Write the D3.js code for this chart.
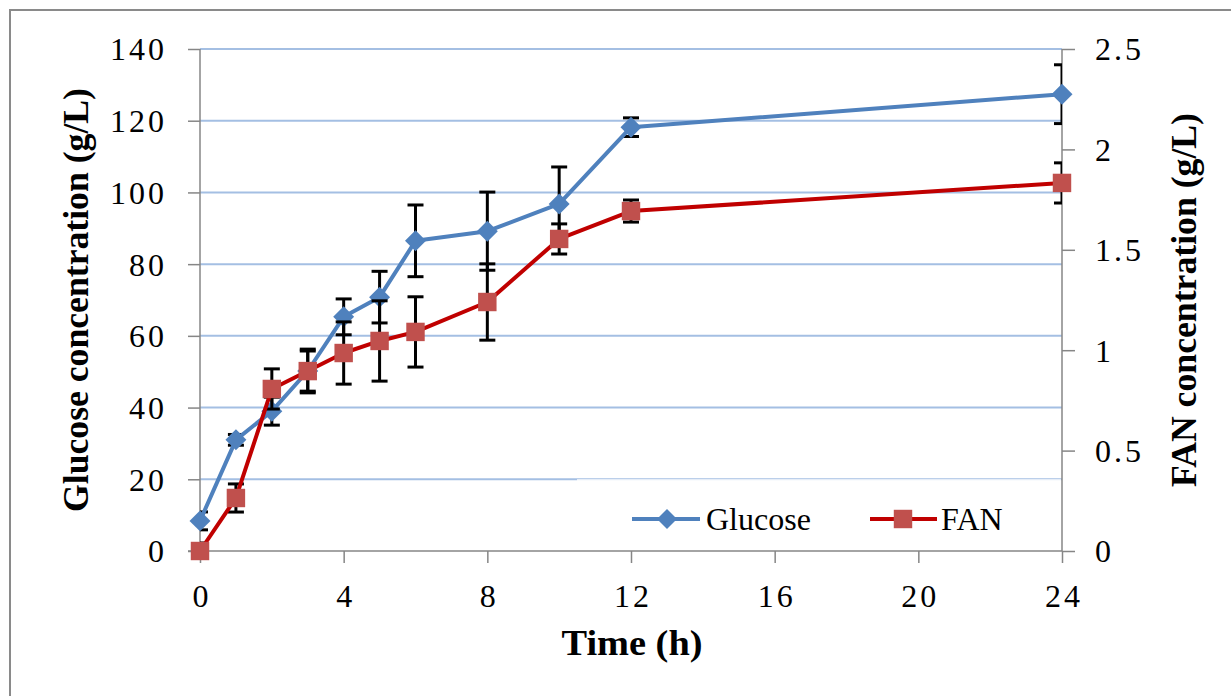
<!DOCTYPE html>
<html>
<head>
<meta charset="utf-8">
<script src="https://cdn.jsdelivr.net/npm/d3@7"></script>
<style>
  body { margin: 0; background: #fff; }
  svg text { font-family: "Liberation Serif", "Times New Roman", Times, "DejaVu Serif", serif; fill: #000; }
</style>
</head>
<body>
<div id="box"></div>
<script>
// 数据：时间 (h)
const hours = [0, 1, 2, 3, 4, 5, 6, 8, 10, 12, 24]
// 葡萄糖浓度 (g/L) 及误差
const glucose = [8.4, 31.0, 39.0, 50.2, 65.3, 70.8, 86.5, 89.2, 96.8, 118.2, 127.4]
const glucoseErr = [2.5, 1.5, 3.9, 6.1, 5.0, 7.2, 10.0, 10.9, 10.3, 2.6, 8.2]
// FAN 浓度 (g/L) 及误差
const fan = [0, 0.264, 0.807, 0.896, 0.986, 1.046, 1.091, 1.240, 1.554, 1.693, 1.833]
const fanErr = [0.04, 0.07, 0.1, 0.1, 0.155, 0.2, 0.175, 0.19, 0.075, 0.055, 0.1]
// 刻度
const xTicks = [0, 4, 8, 12, 16, 20, 24]
const yLeftTicks = [0, 20, 40, 60, 80, 100, 120, 140]
const yRightTicks = [0, 0.5, 1, 1.5, 2, 2.5]

const width = 1231
const height = 696
const margin = {top: 49, right: 169, bottom: 145, left: 200}
const serif = '"Liberation Serif", "Times New Roman", Times, "DejaVu Serif", serif'

const x = d3.scaleLinear().domain([0, 24]).range([margin.left, width - margin.right])
const yL = d3.scaleLinear().domain([0, 140]).range([height - margin.bottom, margin.top])
const yR = d3.scaleLinear().domain([0, 2.5]).range([height - margin.bottom, margin.top])

const blue = '#4F81BD'
const red = '#C00000'
const redMarker = '#C0504D'
const axisGray = '#868686'
const gridBlue = '#A4BFE3'

const svg = d3.select('#box').append('svg')
  .attr('width', width)
  .attr('height', height)
  .style('font-family', serif)

// 外框
svg.append('rect')
  .attr('x', 10).attr('y', 10)
  .attr('width', 1300).attr('height', 800)
  .attr('fill', 'none')
  .attr('stroke', '#8a8a8a')
  .attr('stroke-width', 2)

svg.append('clipPath').attr('id', 'plot-clip')
  .append('rect')
  .attr('x', x(0)).attr('y', yL(140) - 2)
  .attr('width', x(24) - x(0)).attr('height', yL(0) - yL(140) + 4)

// 网格线
svg.append('g')
  .selectAll('line')
  .data(yLeftTicks.filter(d => d > 0))
  .join('line')
  .attr('x1', x(0)).attr('x2', x(24))
  .attr('y1', d => yL(d)).attr('y2', d => yL(d))
  .attr('stroke', gridBlue)
  .attr('stroke-width', 2)

// 左轴
const leftAxis = svg.append('g')
  .attr('transform', `translate(${x(0)},0)`)
  .call(d3.axisLeft(yL).tickValues(yLeftTicks).tickSize(12).tickPadding(24))
// 右轴
const rightAxis = svg.append('g')
  .attr('transform', `translate(${x(24)},0)`)
  .call(d3.axisRight(yR).tickValues(yRightTicks).tickSize(13).tickPadding(20).tickFormat(d => d))
// 底轴
const bottomAxis = svg.append('g')
  .attr('transform', `translate(0,${yL(0)})`)
  .call(d3.axisBottom(x).tickValues(xTicks).tickSize(12).tickPadding(24))

for (const a of [leftAxis, rightAxis, bottomAxis]) {
  a.attr('font-family', null).attr('font-size', null)
  a.select('.domain').attr('stroke', axisGray).attr('stroke-width', 1.5)
  a.selectAll('.tick line').attr('stroke', axisGray).attr('stroke-width', 1.5)
  a.selectAll('.tick text')
    .style('font-family', serif)
    .style('font-size', '32px')
    .style('letter-spacing', '3px')
    .attr('fill', '#000')
}
leftAxis.select('.domain').attr('d', `M0,${yL(140)}V${yL(0)}`)
rightAxis.select('.domain').attr('d', `M0,${yL(140)}V${yL(0)}`)
bottomAxis.select('.domain').attr('d', `M${x(0) - 12},0H${x(24)}`)
leftAxis.selectAll('.tick text').attr('dy', '0.34em').attr('x', -33)
rightAxis.selectAll('.tick text').attr('dy', '0.34em').attr('x', 33)
bottomAxis.selectAll('.tick text').attr('dy', '0').attr('y', 56).attr('dx', 1.5)

// 图例背景（半透明）
svg.append('rect')
  .attr('x', 577).attr('y', 479)
  .attr('width', x(24) - 578).attr('height', 70)
  .attr('fill', '#fff').attr('fill-opacity', 0.72)

const rows = hours.map((h, i) => ({h, g: glucose[i], ge: glucoseErr[i], f: fan[i], fe: fanErr[i]}))

function drawErrors(g, yScale, val, err) {
  const e = g.append('g').attr('clip-path', 'url(#plot-clip)')
    .attr('stroke', '#000').attr('stroke-width', 3)
  e.selectAll('line.v').data(rows).join('line').attr('class', 'v')
    .attr('x1', d => x(d.h)).attr('x2', d => x(d.h))
    .attr('y1', d => yScale(val(d) + err(d))).attr('y2', d => yScale(Math.max(0, val(d) - err(d))))
  e.selectAll('line.t').data(rows).join('line').attr('class', 't')
    .attr('x1', d => x(d.h) - 8).attr('x2', d => x(d.h) + 8)
    .attr('y1', d => yScale(val(d) + err(d))).attr('y2', d => yScale(val(d) + err(d)))
  e.selectAll('line.b').data(rows.filter(d => val(d) - err(d) >= 0)).join('line').attr('class', 'b')
    .attr('x1', d => x(d.h) - 8).attr('x2', d => x(d.h) + 8)
    .attr('y1', d => yScale(val(d) - err(d))).attr('y2', d => yScale(val(d) - err(d)))
}

const square = d3.symbol().type(d3.symbolSquare).size(340)

// Glucose
const gGlu = svg.append('g')
drawErrors(gGlu, yL, d => d.g, d => d.ge)
gGlu.append('path')
  .datum(rows)
  .attr('fill', 'none')
  .attr('stroke', blue)
  .attr('stroke-width', 4)
  .attr('stroke-linejoin', 'round')
  .attr('d', d3.line().x(d => x(d.h)).y(d => yL(d.g)))
gGlu.selectAll('path.m').data(rows).join('path').attr('class', 'm')
  .attr('transform', d => `translate(${x(d.h)},${yL(d.g)}) rotate(45)`)
  .attr('d', d3.symbol().type(d3.symbolSquare).size(220))
  .attr('fill', blue)

// FAN
const gFan = svg.append('g')
drawErrors(gFan, yR, d => d.f, d => d.fe)
gFan.append('path')
  .datum(rows)
  .attr('fill', 'none')
  .attr('stroke', red)
  .attr('stroke-width', 4)
  .attr('stroke-linejoin', 'round')
  .attr('d', d3.line().x(d => x(d.h)).y(d => yR(d.f)))
gFan.selectAll('path.m').data(rows).join('path').attr('class', 'm')
  .attr('transform', d => `translate(${x(d.h)},${yR(d.f)})`)
  .attr('d', square)
  .attr('fill', redMarker)

// 图例
const legend = svg.append('g')
const ly = 519
legend.append('line').attr('x1', 632).attr('x2', 700).attr('y1', ly).attr('y2', ly)
  .attr('stroke', blue).attr('stroke-width', 4)
legend.append('path').attr('transform', `translate(667,${ly}) rotate(45)`)
  .attr('d', d3.symbol().type(d3.symbolSquare).size(200)).attr('fill', blue)
legend.append('text').attr('x', 706).attr('y', ly + 11)
  .style('font-size', '32px').text('Glucose')
legend.append('line').attr('x1', 870).attr('x2', 937).attr('y1', ly).attr('y2', ly)
  .attr('stroke', red).attr('stroke-width', 4)
legend.append('path').attr('transform', `translate(903,${ly})`)
  .attr('d', square).attr('fill', redMarker)
legend.append('text').attr('x', 941).attr('y', ly + 11)
  .style('font-size', '32px').text('FAN')

// 轴标题
svg.append('text')
  .attr('transform', 'translate(88,300) rotate(-90)')
  .attr('text-anchor', 'middle')
  .style('font-size', '35px').style('font-weight', 'bold')
  .attr('textLength', 424).attr('lengthAdjust', 'spacingAndGlyphs')
  .text('Glucose concentration (g/L)')
svg.append('text')
  .attr('transform', 'translate(1196,300) rotate(-90)')
  .attr('text-anchor', 'middle')
  .style('font-size', '35px').style('font-weight', 'bold')
  .attr('textLength', 374).attr('lengthAdjust', 'spacingAndGlyphs')
  .text('FAN concentration (g/L)')
svg.append('text')
  .attr('x', 632).attr('y', 655)
  .attr('text-anchor', 'middle')
  .style('font-size', '35px').style('font-weight', 'bold')
  .attr('textLength', 141).attr('lengthAdjust', 'spacingAndGlyphs')
  .text('Time (h)')
</script>
</body>
</html>
